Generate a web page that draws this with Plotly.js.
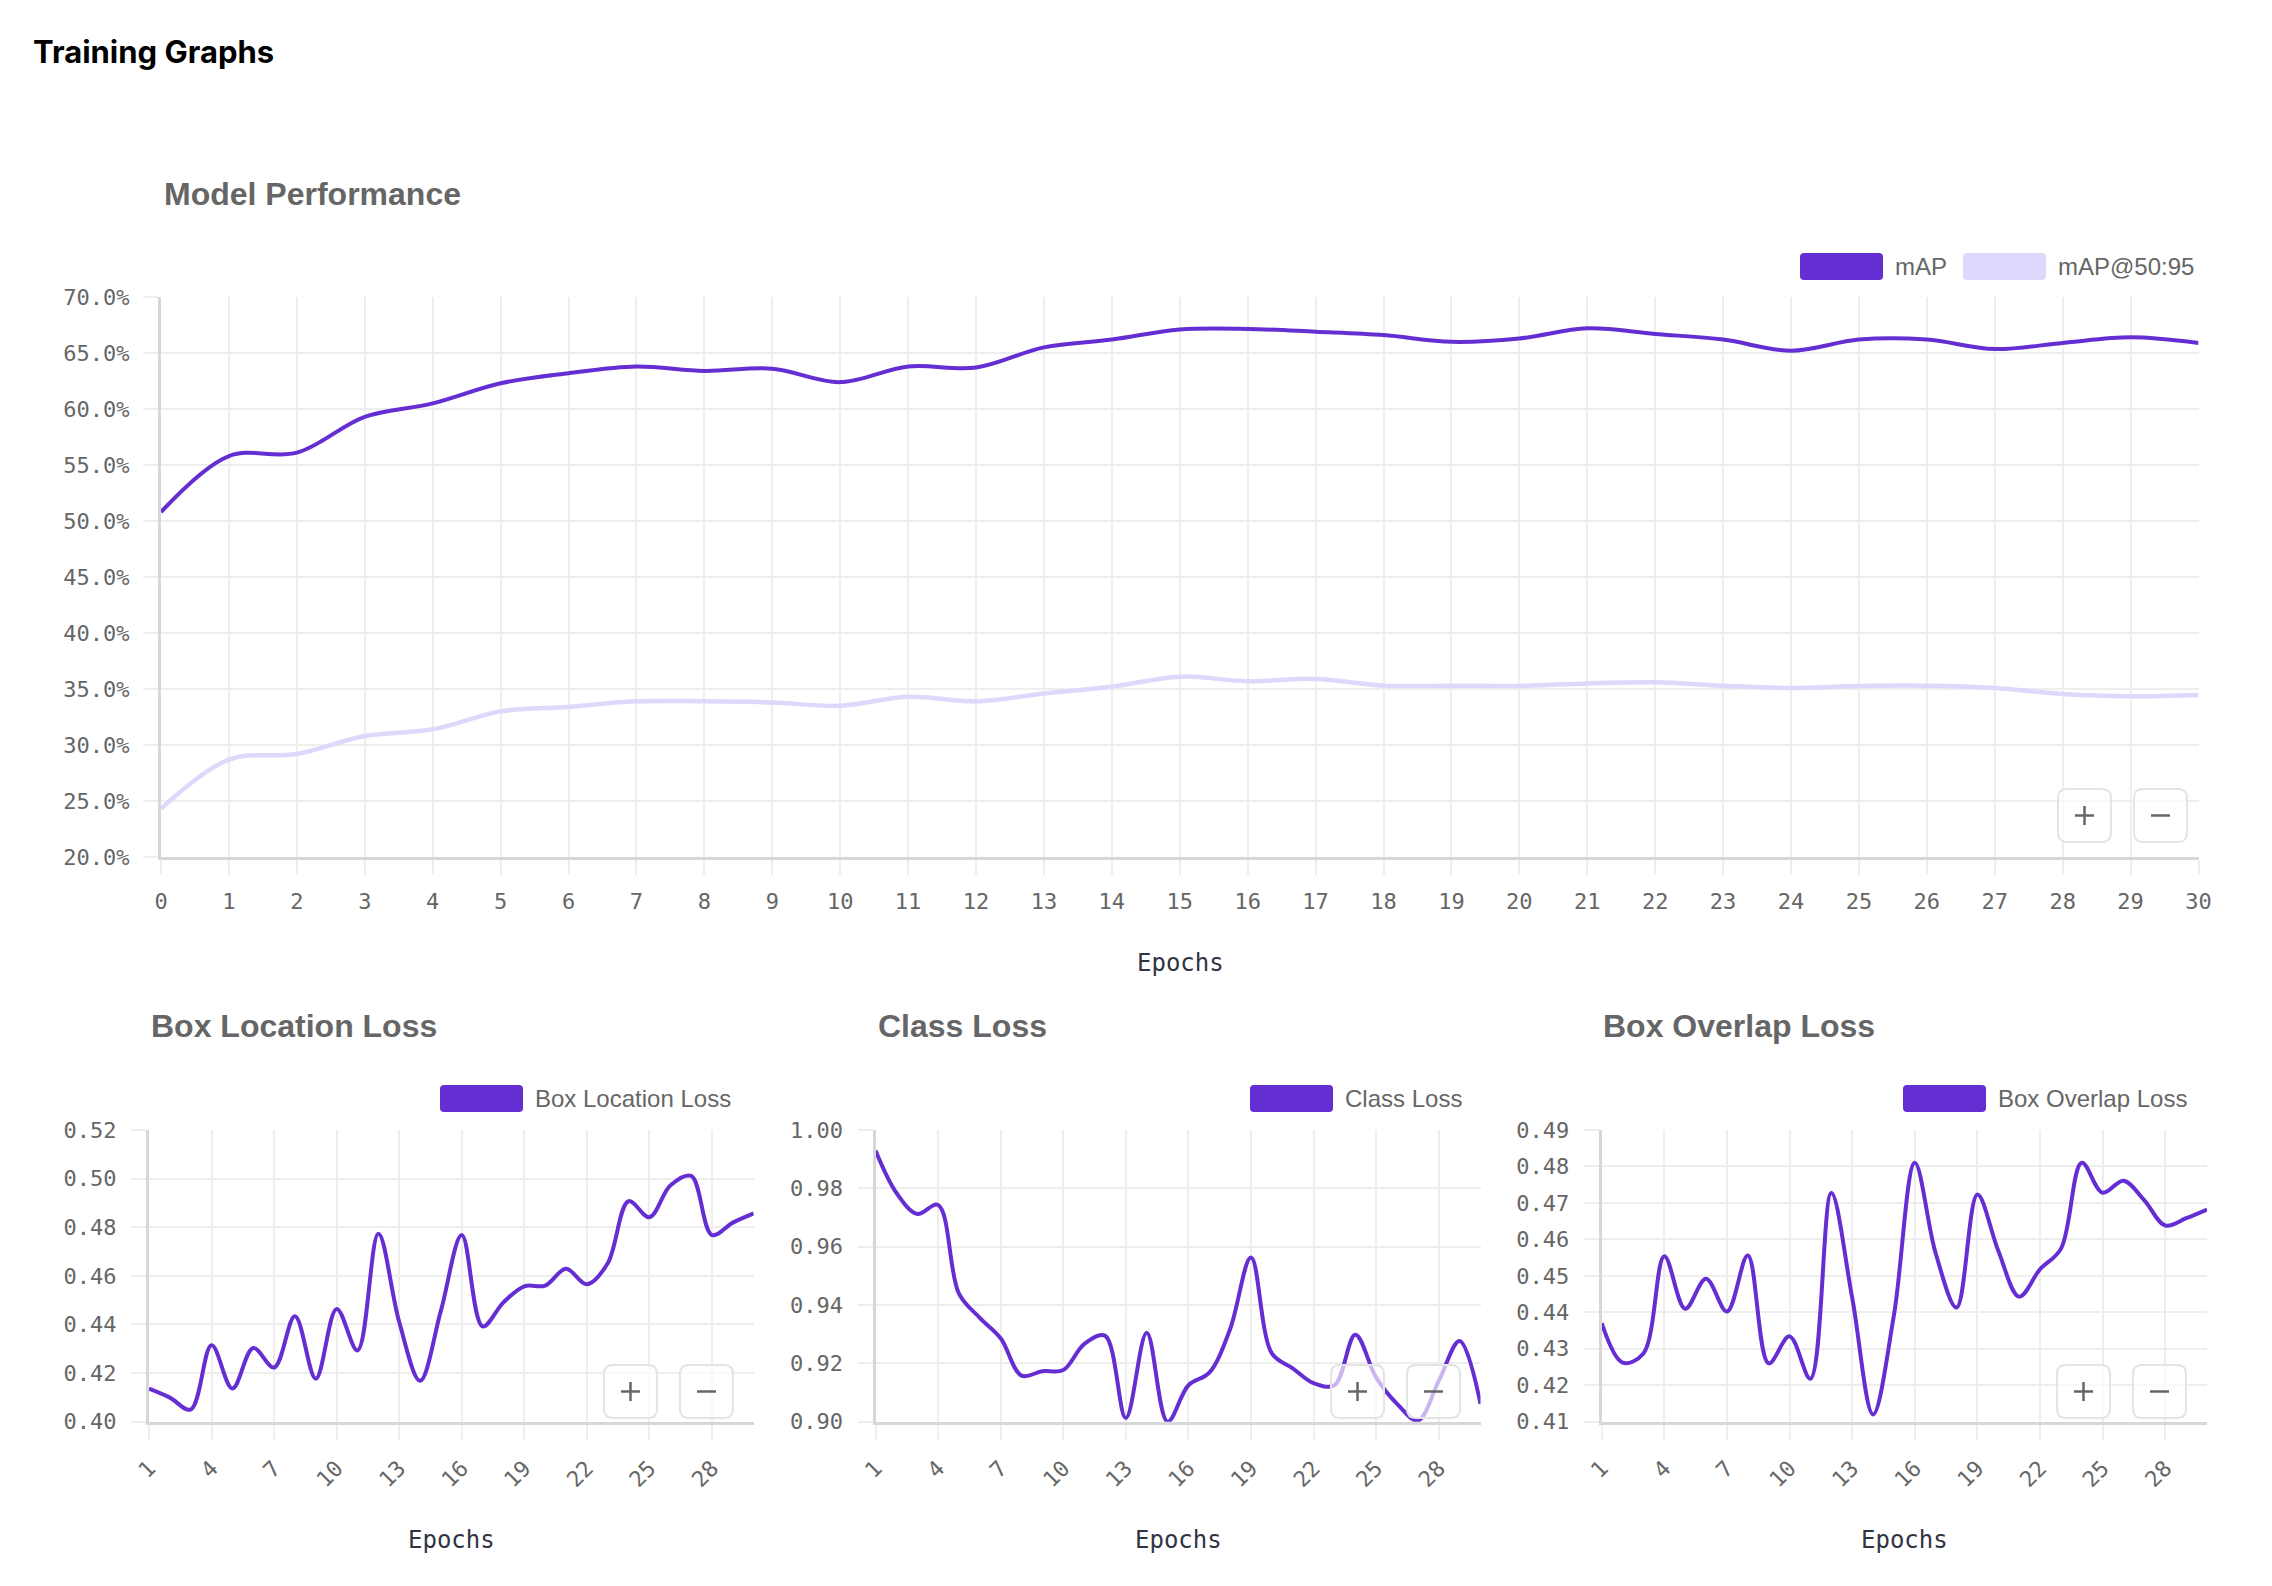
<!DOCTYPE html>
<html>
<head>
<meta charset="utf-8">
<script src="https://cdn.plot.ly/plotly-3.0.1.min.js"></script>
<style>
html,body{margin:0;padding:0;background:#fff;}
#chart{width:2272px;height:1586px;}
</style>
</head>
<body>
<div id="chart"></div>
<script>
// ---------- data ----------
const epochsMain = [0,1,2,3,4,5,6,7,8,9,10,11,12,13,14,15,16,17,18,19,20,21,22,23,24,25,26,27,28,29,30];
const mAP = [50.8,55.8,56.1,59.3,60.5,62.3,63.2,63.8,63.4,63.6,62.4,63.8,63.7,65.5,66.2,67.1,67.15,66.9,66.6,66.0,66.3,67.2,66.7,66.2,65.2,66.2,66.2,65.35,65.9,66.4,65.9];
const mAP5095 = [24.3,28.7,29.2,30.8,31.4,33.0,33.4,33.9,33.9,33.8,33.5,34.3,33.9,34.6,35.2,36.1,35.7,35.9,35.3,35.3,35.27,35.5,35.6,35.3,35.1,35.27,35.3,35.1,34.55,34.35,34.47];

const epochsLoss = [1,2,3,4,5,6,7,8,9,10,11,12,13,14,15,16,17,18,19,20,21,22,23,24,25,26,27,28,29,30];
const lossTickVals = [1,4,7,10,13,16,19,22,25,28];
const boxLoss = [0.4136,0.4099,0.4050,0.4315,0.4137,0.4303,0.4223,0.4434,0.4177,0.4464,0.4293,0.4773,0.4410,0.4168,0.4457,0.4768,0.4392,0.4491,0.4557,0.4560,0.4629,0.4565,0.4652,0.4907,0.4841,0.4972,0.5011,0.4768,0.4819,0.4857];
const classLoss = [0.9930,0.9785,0.9712,0.9743,0.9439,0.9356,0.9286,0.9158,0.9173,0.9177,0.9266,0.9295,0.9013,0.9305,0.9000,0.9125,0.9168,0.9318,0.9563,0.9234,0.9183,0.9132,0.9125,0.9298,0.9151,0.9061,0.9004,0.9140,0.9277,0.9061];
const overlapLoss = [0.4370,0.4262,0.4287,0.4554,0.4410,0.4492,0.4402,0.4556,0.4260,0.4334,0.4218,0.4727,0.4440,0.4120,0.4392,0.4810,0.4562,0.4413,0.4723,0.4569,0.4443,0.4518,0.4574,0.4810,0.4728,0.4761,0.4707,0.4638,0.4658,0.4682];

const labels = {
  page: 'Training Graphs',
  main: 'Model Performance',
  s1: 'mAP', s2: 'mAP@50:95',
  box: 'Box Location Loss', cls: 'Class Loss', ovl: 'Box Overlap Loss',
  xTitle: 'Epochs'
};

// ---------- styling ----------
const W = 2272, H = 1586;
const fx = p => p / W;
const fy = p => 1 - p / H;
const PURPLE = '#652ED2';
const LAVENDER = '#DDD8FC';
const GRID = '#eeeeee';
const AXIS = '#d7d7d7';
const TICKFONT = {family: 'DejaVu Sans Mono, Liberation Mono, monospace', size: 22, color: '#666666'};

function xAxis(dom, extra) {
  return Object.assign({
    domain: [fx(dom[0]), fx(dom[1])],
    showgrid: true, gridcolor: GRID, gridwidth: 2,
    ticks: 'outside', ticklen: 15, tickwidth: 2, tickcolor: GRID,
    showline: true, linecolor: AXIS, linewidth: 3,
    zeroline: false, tickfont: TICKFONT, fixedrange: true
  }, extra);
}
function yAxis(dom, extra) {
  return Object.assign({
    domain: [fy(dom[1]), fy(dom[0])],
    showgrid: true, gridcolor: GRID, gridwidth: 2,
    ticks: 'outside', ticklen: 15, tickwidth: 2, tickcolor: GRID,
    showline: true, linecolor: AXIS, linewidth: 3,
    zeroline: false, tickfont: TICKFONT, fixedrange: true
  }, extra);
}

const lineCommon = {mode: 'lines', hoverinfo: 'skip', showlegend: false};
const traces = [
  Object.assign({x: epochsMain, y: mAP5095, xaxis: 'x', yaxis: 'y',
    line: {color: LAVENDER, width: 4.5, shape: 'spline', smoothing: 1}}, lineCommon),
  Object.assign({x: epochsMain, y: mAP, xaxis: 'x', yaxis: 'y',
    line: {color: PURPLE, width: 4, shape: 'spline', smoothing: 1}}, lineCommon),
  Object.assign({x: epochsLoss, y: boxLoss, xaxis: 'x2', yaxis: 'y2',
    line: {color: PURPLE, width: 4, shape: 'spline', smoothing: 1}}, lineCommon),
  Object.assign({x: epochsLoss, y: classLoss, xaxis: 'x3', yaxis: 'y3',
    line: {color: PURPLE, width: 4, shape: 'spline', smoothing: 1}}, lineCommon),
  Object.assign({x: epochsLoss, y: overlapLoss, xaxis: 'x4', yaxis: 'y4',
    line: {color: PURPLE, width: 4, shape: 'spline', smoothing: 1}}, lineCommon)
];

// rounded rectangle path in paper coordinates (pixel inputs)
function rrect(x0, y0, x1, y1, r) {
  const X = p => fx(p).toFixed(6), Y = p => fy(p).toFixed(6);
  return 'M' + X(x0 + r) + ',' + Y(y0) +
    ' L' + X(x1 - r) + ',' + Y(y0) +
    ' Q' + X(x1) + ',' + Y(y0) + ' ' + X(x1) + ',' + Y(y0 + r) +
    ' L' + X(x1) + ',' + Y(y1 - r) +
    ' Q' + X(x1) + ',' + Y(y1) + ' ' + X(x1 - r) + ',' + Y(y1) +
    ' L' + X(x0 + r) + ',' + Y(y1) +
    ' Q' + X(x0) + ',' + Y(y1) + ' ' + X(x0) + ',' + Y(y1 - r) +
    ' L' + X(x0) + ',' + Y(y0 + r) +
    ' Q' + X(x0) + ',' + Y(y0) + ' ' + X(x0 + r) + ',' + Y(y0) + ' Z';
}

const shapes = [];
const annotations = [];

function txt(text, xpx, ypx, font, xanchor) {
  annotations.push({text: text, xref: 'paper', yref: 'paper', x: fx(xpx), y: fy(ypx),
    xanchor: xanchor || 'left', yanchor: 'middle', showarrow: false, font: font, borderpad: 0});
}
function swatch(x0, color, label, ytop) {
  shapes.push({type: 'path', xref: 'paper', yref: 'paper', path: rrect(x0, ytop, x0 + 83, ytop + 27, 4),
    fillcolor: color, line: {width: 0}, layer: 'above'});
  txt(label, x0 + 94, ytop + 13, {family: 'Liberation Sans, Arial, sans-serif', size: 24, color: '#666666'});
}
function buttons(plusX, minusX, ytop) {
  const s = 53;
  [plusX, minusX].forEach(function (bx, i) {
    shapes.push({type: 'path', xref: 'paper', yref: 'paper', path: rrect(bx, ytop, bx + s, ytop + s, 9),
      fillcolor: 'rgba(255,255,255,0.65)', line: {color: '#e4e4e4', width: 2}, layer: 'above'});
    const cx = bx + s / 2, cy = ytop + s / 2, h = 9.5;
    shapes.push({type: 'line', xref: 'paper', yref: 'paper', x0: fx(cx - h), x1: fx(cx + h), y0: fy(cy), y1: fy(cy),
      line: {color: '#666666', width: 2.5}, layer: 'above'});
    if (i === 0) {
      shapes.push({type: 'line', xref: 'paper', yref: 'paper', x0: fx(cx), x1: fx(cx), y0: fy(cy - h), y1: fy(cy + h),
        line: {color: '#666666', width: 2.5}, layer: 'above'});
    }
  });
}

const titleFont = {family: 'Liberation Sans, Arial, sans-serif', size: 32, color: '#666666'};
const epochFont = {family: 'DejaVu Sans Mono, Liberation Mono, monospace', size: 24, color: '#2f3442'};

// page title
txt('<b>' + labels.page + '</b>', 32, 51, {family: 'Inter, Liberation Sans, sans-serif', size: 31, color: '#000000'});
// main chart
txt('<b>' + labels.main + '</b>', 163, 194, titleFont);
swatch(1800, PURPLE, labels.s1, 253);
swatch(1963, LAVENDER, labels.s2, 253);
txt(labels.xTitle, 1180, 963, epochFont, 'center');
buttons(2058, 2134, 789);

// lower charts
const lower = [
  {title: labels.box, tx: 150, sw: 440, plot: [149, 753.7], bp: 604, bm: 680},
  {title: labels.cls, tx: 877, sw: 1250, plot: [875.5, 1480.5], bp: 1331, bm: 1407},
  {title: labels.ovl, tx: 1602, sw: 1903, plot: [1601.7, 2207], bp: 2057, bm: 2133}
];
lower.forEach(function (c) {
  txt('<b>' + c.title + '</b>', c.tx, 1026, titleFont);
  swatch(c.sw, PURPLE, c.title, 1085);
  txt(labels.xTitle, (c.plot[0] + c.plot[1]) / 2, 1540, epochFont, 'center');
  buttons(c.bp, c.bm, 1365);
});

const lossX = {range: [1, 30], tickmode: 'array', tickvals: lossTickVals, tickangle: -45, ticklabelstandoff: 7};

const layout = {
  width: W, height: H,
  margin: {l: 0, r: 0, t: 0, b: 0, pad: 0},
  paper_bgcolor: '#ffffff', plot_bgcolor: '#ffffff',
  showlegend: false,
  xaxis: xAxis([161, 2198.5], {range: [0, 30], tickmode: 'linear', tick0: 0, dtick: 1, anchor: 'y', tickangle: 0, ticklabelstandoff: 8}),
  yaxis: yAxis([297, 857], {range: [20, 70], tickmode: 'linear', tick0: 20, dtick: 5, tickformat: '.1f', ticksuffix: '%', anchor: 'x', ticklabelstandoff: 9}),
  xaxis2: xAxis(lower[0].plot, Object.assign({anchor: 'y2'}, lossX)),
  yaxis2: yAxis([1130, 1421.7], {range: [0.40, 0.52], tickmode: 'linear', tick0: 0.40, dtick: 0.02, tickformat: '.2f', anchor: 'x2', ticklabelstandoff: 10}),
  xaxis3: xAxis(lower[1].plot, Object.assign({anchor: 'y3'}, lossX)),
  yaxis3: yAxis([1130, 1421.7], {range: [0.90, 1.00], tickmode: 'linear', tick0: 0.90, dtick: 0.02, tickformat: '.2f', anchor: 'x3', ticklabelstandoff: 10}),
  xaxis4: xAxis(lower[2].plot, Object.assign({anchor: 'y4'}, lossX)),
  yaxis4: yAxis([1130, 1421.7], {range: [0.41, 0.49], tickmode: 'linear', tick0: 0.41, dtick: 0.01, tickformat: '.2f', anchor: 'x4', ticklabelstandoff: 10}),
  shapes: shapes,
  annotations: annotations
};

Plotly.newPlot('chart', traces, layout, {displayModeBar: false, staticPlot: true, responsive: false});
</script>
</body>
</html>
